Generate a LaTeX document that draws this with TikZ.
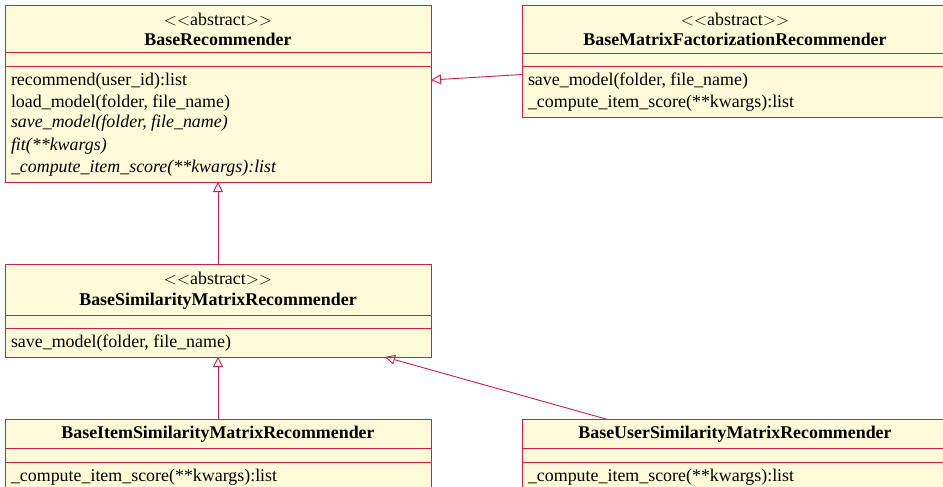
\documentclass[tikz,border=0pt]{standalone}
\usepackage{fontspec}
\setmainfont{Liberation Serif}
\usetikzlibrary{arrows.meta}
\definecolor{umlline}{RGB}{200,30,80}
\definecolor{umlfill}{RGB}{255,250,215}
\begin{document}
\begin{tikzpicture}[x=1pt,y=-1pt,
  cls/.style={draw=umlline, fill=umlfill, line width=0.9pt, inner sep=0pt, outer sep=0pt, anchor=north west},
  sep/.style={draw=umlline, line width=0.9pt},
  txt/.style={inner sep=0pt, outer sep=0pt, anchor=base, font=\fontsize{17.9}{21}\selectfont},
  meth/.style={txt, anchor=base west},
  cname/.style={txt, font=\fontsize{17.9}{21}\selectfont\bfseries},
  inh/.style={draw=umlline, line width=0.9pt, -{Triangle[open,length=10pt,width=10pt]}}]
\useasboundingbox (0,0) rectangle (943,487);
\clip (0,0) rectangle (943,487);

% BaseRecommender
\node[cls, minimum width=426pt, minimum height=177pt] (b1) at (5,5) {};
\draw[sep] (b1.west |- 0,52) -- (b1.east |- 0,52);
\draw[sep] (b1.west |- 0,66) -- (b1.east |- 0,66);
\node[txt] (b1s) at (218,26) {$<<$abstract$>>$};
\node[cname] (b1n) at (218,46) {BaseRecommender};
\node[meth] (b1m1) at (11,85) {recommend(user\_id):list};
\node[meth] (b1m2) at (11,107) {load\_model(folder, file\_name)};
\node[meth] (b1m3) at (11,128) {\itshape save\_model(folder, file\_name)};
\node[meth] (b1m4) at (11,150) {\itshape fit(**kwargs)};
\node[meth] (b1m5) at (11,172) {\itshape \_compute\_item\_score(**kwargs):list};

% BaseMatrixFactorizationRecommender
\node[cls, minimum width=426pt, minimum height=112pt] (b2) at (522,5) {};
\draw[sep] (b2.west |- 0,53) -- (b2.east |- 0,53);
\draw[sep] (b2.west |- 0,66) -- (b2.east |- 0,66);
\node[txt] (b2s) at (735,26) {$<<$abstract$>>$};
\node[cname] (b2n) at (735,46) {BaseMatrixFactorizationRecommender};
\node[meth] (b2m1) at (528,85) {save\_model(folder, file\_name)};
\node[meth] (b2m2) at (528,107) {\_compute\_item\_score(**kwargs):list};

% BaseSimilarityMatrixRecommender
\node[cls, minimum width=426pt, minimum height=93pt] (b3) at (5,264) {};
\draw[sep] (b3.west |- 0,315) -- (b3.east |- 0,315);
\draw[sep] (b3.west |- 0,328) -- (b3.east |- 0,328);
\node[txt] (b3s) at (218,284) {$<<$abstract$>>$};
\node[cname] (b3n) at (218,305) {BaseSimilarityMatrixRecommender};
\node[meth] (b3m1) at (11,347) {save\_model(folder, file\_name)};

% BaseItemSimilarityMatrixRecommender
\node[cls, minimum width=426pt, minimum height=90pt] (b4) at (5,419) {};
\draw[sep] (b4.west |- 0,448) -- (b4.east |- 0,448);
\draw[sep] (b4.west |- 0,462) -- (b4.east |- 0,462);
\node[cname] (b4n) at (218,438) {BaseItemSimilarityMatrixRecommender};
\node[meth] (b4m1) at (11,481) {\_compute\_item\_score(**kwargs):list};

% BaseUserSimilarityMatrixRecommender
\node[cls, minimum width=426pt, minimum height=90pt] (b5) at (522,419) {};
\draw[sep] (b5.west |- 0,448) -- (b5.east |- 0,448);
\draw[sep] (b5.west |- 0,462) -- (b5.east |- 0,462);
\node[cname] (b5n) at (735,438) {BaseUserSimilarityMatrixRecommender};
\node[meth] (b5m1) at (528,481) {\_compute\_item\_score(**kwargs):list};

% Generalisations
\draw[inh] ([yshift=-69.5pt]b2.north west) -- ([yshift=-75pt]b1.north east);
\draw[inh] (b3.north) -- (b1.south);
\draw[inh] (b4.north) -- (b3.south);
\draw[inh] ([xshift=84pt]b5.north west) -- ([xshift=-46pt]b3.south east);
\end{tikzpicture}
\end{document}
